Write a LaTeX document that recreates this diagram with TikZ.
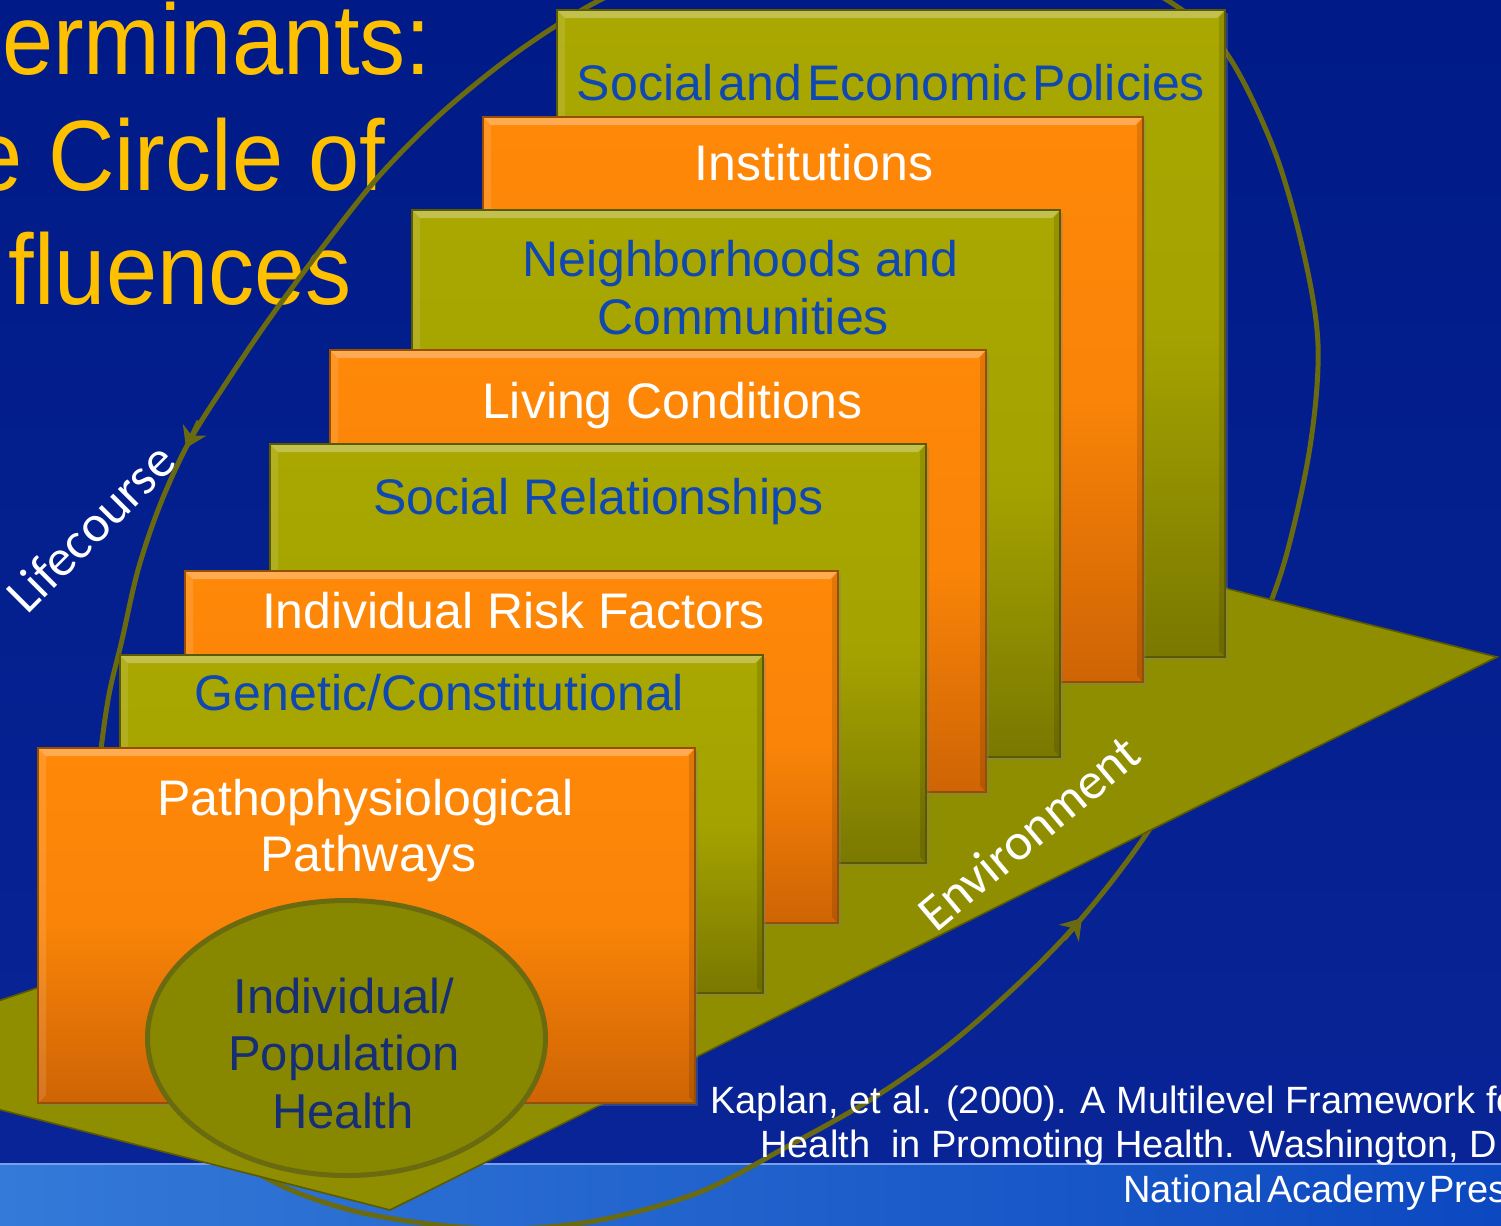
\documentclass[tikz,border=0pt]{standalone}
\usepackage{fontspec}
\setmainfont{Liberation Sans}
\newfontfamily\titlefont[FakeStretch=0.92]{Liberation Sans}
\newfontfamily\tightfont[WordSpace=0.4]{Liberation Sans}
\newfontfamily\curvefont{Carlito}
\usetikzlibrary{shapes.geometric,shadows,arrows.meta,positioning}

\definecolor{bgblue}{RGB}{0,27,135}
\definecolor{bgblueb}{RGB}{8,36,150}
\definecolor{bandl}{RGB}{52,122,216}
\definecolor{bandr}{RGB}{12,72,192}
\definecolor{bandline}{RGB}{120,160,232}
\definecolor{titleyellow}{RGB}{255,192,0}
\definecolor{olivetop}{RGB}{169,167,0}
\definecolor{olivebot}{RGB}{122,120,0}
\definecolor{oliveedge}{RGB}{92,90,0}
\definecolor{orangetop}{RGB}{255,136,8}
\definecolor{orangebot}{RGB}{206,100,4}
\definecolor{orangeedge}{RGB}{150,78,0}
\definecolor{floorolive}{RGB}{142,142,0}
\definecolor{ringolive}{RGB}{106,106,16}
\definecolor{lblblue}{RGB}{16,72,178}
\definecolor{navy}{RGB}{22,46,116}

\tikzset{card/.style={rectangle,inner sep=0pt,line width=0.6pt,
    drop shadow={shadow xshift=1.5pt,shadow yshift=-1.5pt,opacity=.35},
    path picture={
      \fill[white,opacity=.3] (path picture bounding box.north west) -- (path picture bounding box.north east)
        -- ([xshift=-4pt,yshift=-4pt]path picture bounding box.north east) -- ([xshift=4pt,yshift=-4pt]path picture bounding box.north west) -- cycle;
      \fill[white,opacity=.12] (path picture bounding box.north west) -- ([xshift=4pt,yshift=-4pt]path picture bounding box.north west)
        -- ([xshift=4pt,yshift=4pt]path picture bounding box.south west) -- (path picture bounding box.south west) -- cycle;
      \fill[black,opacity=.12] (path picture bounding box.north east) -- (path picture bounding box.south east)
        -- ([xshift=-3pt,yshift=3pt]path picture bounding box.south east) -- ([xshift=-3pt,yshift=-4pt]path picture bounding box.north east) -- cycle;}},
  olivecard/.style={card,draw=oliveedge,top color=olivetop,bottom color=olivebot,middle color=olivetop!90!olivebot},
  orangecard/.style={card,draw=orangeedge,top color=orangetop,bottom color=orangebot,middle color=orangetop!88!orangebot},
  bluelbl/.style={text=lblblue,font=\fontsize{25}{28}\selectfont,anchor=base,inner sep=0pt},
  whitelbl/.style={text=white,font=\fontsize{25}{28}\selectfont,anchor=base,inner sep=0pt},
  navylbl/.style={text=navy,font=\fontsize{24.5}{28}\selectfont,anchor=base,inner sep=0pt},
  titlelbl/.style={text=titleyellow,font=\titlefont\fontsize{50}{60}\selectfont,anchor=base east,inner sep=0pt},
  curvelbl/.style={text=white,font=\curvefont\fontsize{26}{30}\selectfont,anchor=base,inner sep=0pt},
  citelbl/.style={text=white,font=\fontsize{19}{22}\selectfont,anchor=base west,inner sep=0pt},
  ringline/.style={draw=ringolive,line width=2.5pt}}

\begin{document}
\begin{tikzpicture}[x=0.5pt,y=-0.5pt,>=Stealth]
    \useasboundingbox (0,0) rectangle (1501,1226);
    \clip (0,0) rectangle (1501,1226);
    \shade[top color=bgblue,bottom color=bgblueb] (0,0) rectangle (1501,1163);
    \shade[left color=bandl,right color=bandr] (0,1163) rectangle (1501,1226);
    \draw[bandline,line width=1pt] (0,1164) -- (1501,1164);

    \node[titlelbl] (t1) at (432,75) {erminants:};
    \node[titlelbl] (t2) at (386,190) {e Circle of};
    \node[titlelbl] (t3) at (352,304) {fluences};

    \draw[ringline] plot[smooth cycle,tension=0.55] coordinates {(880,-66) (780,-58) (680,-32) (600,0) (520,50) (445,110) (380,175) (322,248) (270,318) (228,380) (189,442) (160,505) (138,570) (122,640) (108,700) (98,780) (96,860) (104,940) (125,1020) (162,1090) (215,1145) (280,1185) (350,1210) (430,1224) (510,1229) (600,1220) (700,1192) (790,1145) (870,1100) (945,1048) (1015,987) (1074,927) (1128,860) (1175,790) (1218,715) (1255,640) (1285,560) (1310,447) (1318,345) (1303,250) (1273,147) (1225,51) (1167,0) (1080,-40) (980,-62)};
    \coordinate (lc1) at (199,421);
    \coordinate (lc2) at (186,448);
    \coordinate (ec1) at (1064,939);
    \coordinate (ec2) at (1082,918);
    \draw[ringline,-{Stealth[length=10pt,width=13pt]}] (lc1) -- (lc2);
    \draw[ringline,-{Stealth[length=10pt,width=13pt]}] (ec1) -- (ec2);

    \fill[floorolive,draw=oliveedge,line width=0.8pt] (-100,1034) -- (1225,588) -- (1497,657) -- (390,1210) -- (-100,1084) -- cycle;

    \node[olivecard,minimum width=334pt,minimum height=323.5pt] (pol) at (891,333.5) {};
    \node[bluelbl,font=\tightfont\fontsize{25}{28}\selectfont] (polt) at (891,100) {Social and Economic Policies};
    \node[orangecard,minimum width=330pt,minimum height=282.5pt] (inst) at (813,399.5) {};
    \node[whitelbl] (instt) at (814,180) {Institutions};
    \node[olivecard,minimum width=324pt,minimum height=273.5pt] (nbh) at (736,483.5) {};
    \node[bluelbl] (nbht1) at (740.5,276) {Neighborhoods and};
    \node[bluelbl] (nbht2) at (743,334) {Communities};
    \node[orangecard,minimum width=328pt,minimum height=221pt] (liv) at (658,571) {};
    \node[whitelbl] (livt) at (672.5,418) {Living Conditions};
    \node[olivecard,minimum width=328pt,minimum height=209.5pt] (rel) at (598,653.5) {};
    \node[bluelbl] (relt) at (598.5,514) {Social Relationships};
    \node[orangecard,minimum width=326.5pt,minimum height=176pt] (risk) at (511.5,747) {};
    \node[whitelbl] (riskt) at (513.5,628) {Individual Risk Factors};
    \node[olivecard,minimum width=321.5pt,minimum height=169pt] (gen) at (441.5,824) {};
    \node[bluelbl] (gent) at (439.5,710) {Genetic/Constitutional};
    \node[orangecard,minimum width=328.5pt,minimum height=177.5pt] (path) at (366.5,925.5) {};
    \node[whitelbl] (patht1) at (365.5,815) {Pathophysiological};
    \node[whitelbl] (patht2) at (368.5,871) {Pathways};

    \node[ellipse,draw=ringolive,line width=2.5pt,fill=floorolive!96!black,minimum width=199pt,minimum height=137.5pt,inner sep=0pt] (health) at (346.5,1038) {};
    \node[navylbl] (healtht1) at (344,1013) {Individual/};
    \node[navylbl] (healtht2) at (344,1070) {Population};
    \node[navylbl] (healtht3) at (343,1128) {Health};

    \node[curvelbl,rotate=45] (life) at (103,540) {Lifecourse};
    \node[curvelbl,rotate=40] (env) at (1040,846) {Environment};

    \node[citelbl] (cite1) at (710,1113) {Kaplan, et al. (2000). A Multilevel Framework fo};
    \node[citelbl] (cite2) at (760,1157) {Health\ \ in Promoting Health. Washington, D};
    \node[citelbl,font=\tightfont\fontsize{19}{22}\selectfont] (cite3) at (1123,1202) {National Academy Pres};
\end{tikzpicture}
\end{document}
